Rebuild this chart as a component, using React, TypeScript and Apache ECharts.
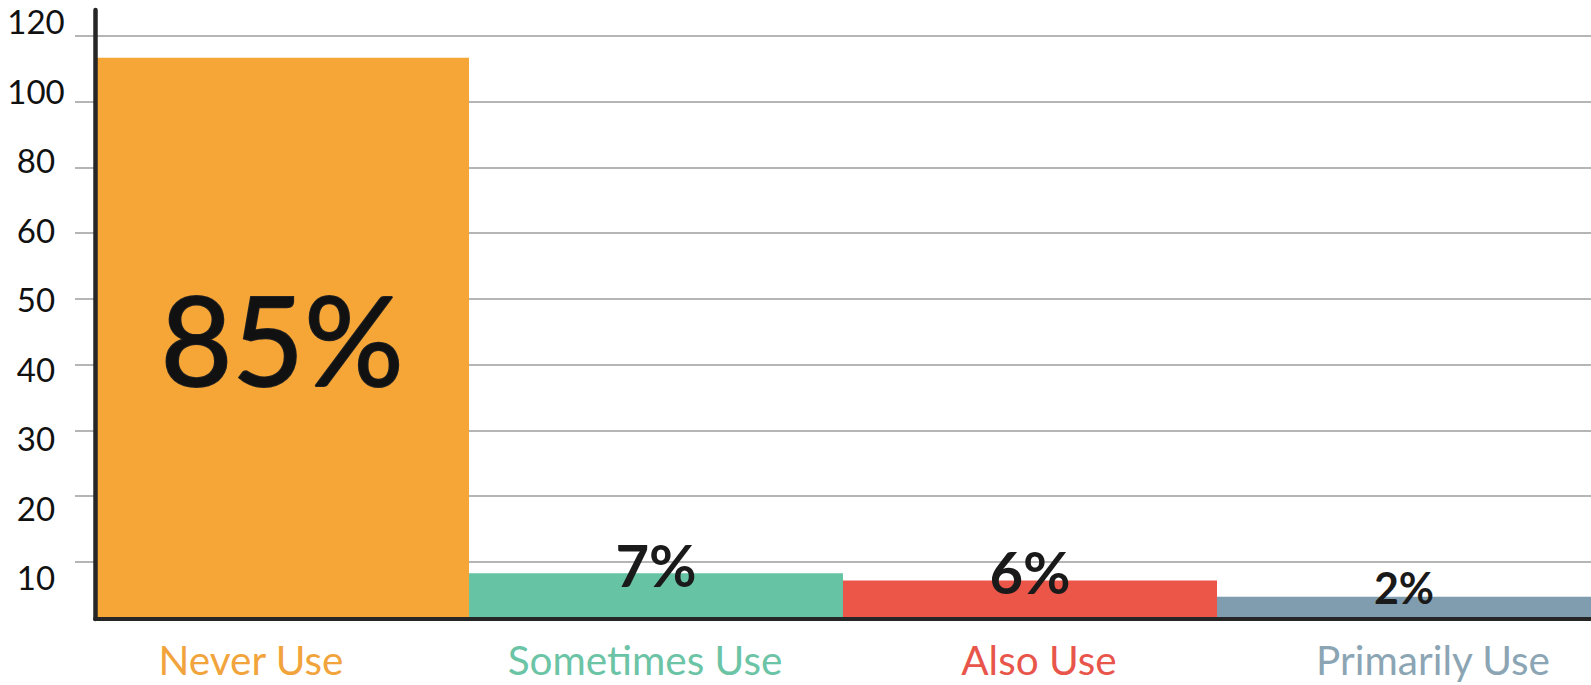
import React, { useEffect, useRef } from 'react';
import * as echarts from 'echarts';

// Categories and values
const categories = ['Never Use', 'Sometimes Use', 'Also Use', 'Primarily Use'];
const percents = [85, 7, 6, 2];
// Bar heights in gridline units (1 = the "10" line, 9 = the "120" line)
const barHeights = [8.67, 0.83, 0.72, 0.47];
// Y tick labels, one per gridline (evenly spaced, non-linear labels)
const yTickLabels = ['10', '20', '30', '40', '50', '60', '80', '100', '120'];
const yTickValues = [1, 2, 3, 4, 5, 6, 7, 8, 9];

const barColors = ['#F6A537', '#66C3A3', '#EB5649', '#7F9DAF'];
const labelColors = ['#F2A43C', '#6BC4A5', '#E8554B', '#8BA5B4'];

const FONT = 'Lato, "Open Sans", sans-serif';

export default function App() {
  const ref = useRef<HTMLDivElement>(null);

  useEffect(() => {
    if (!ref.current) return;
    const chart = echarts.init(ref.current, null, { renderer: 'svg' });

    const data = barHeights.map((h, i) => ({
      value: h,
      itemStyle: { color: barColors[i] },
      label:
        i === 0
          ? {
              show: true,
              position: 'inside',
              fontSize: 124,
              fontWeight: 'normal',
              fontFamily: FONT,
              color: '#111111',
              textBorderColor: '#222222',
              textBorderWidth: 2,
            }
          : {
              show: true,
              position: 'top',
              distance: 9,
              verticalAlign: 'middle',
              fontSize: i === 3 ? 43 : 58,
              fontWeight: 'bold',
              fontFamily: FONT,
              color: '#1a1a1a',
            },
    }));

    const option: any = {
      animation: false,
      backgroundColor: '#ffffff',
      grid: [
        { left: 95, right: 0, top: 10, bottom: 66, outerBoundsMode: 'none', containLabel: false },
        { left: 54, width: 1576, top: 10, bottom: 66, outerBoundsMode: 'none', containLabel: false },
      ],
      xAxis: [
        {
          type: 'category',
          gridIndex: 0,
          data: categories,
          z: 3,
          axisLine: { show: true, onZero: false, lineStyle: { color: '#262626', width: 4 } },
          axisTick: { show: false },
          axisLabel: { show: false },
          splitLine: { show: false },
        },
        {
          type: 'category',
          gridIndex: 1,
          data: categories,
          axisLine: { show: false },
          axisTick: { show: false },
          splitLine: { show: false },
          axisLabel: {
            margin: 20,
            fontFamily: FONT,
            fontSize: 40.5,
            color: (_v: any, i: number) => labelColors[i],
          },
        },
      ],
      yAxis: [
        {
          type: 'value',
          gridIndex: 0,
          min: 0.133,
          max: 9.395,
          axisLine: { show: false },
          axisTick: {
            show: true,
            customValues: yTickValues,
            length: 20,
            lineStyle: { color: '#9d9d9d', width: 1.5 },
          },
          axisLabel: { show: false },
          splitLine: { show: true, lineStyle: { color: '#9d9d9d', width: 1.5 } },
        },
        {
          type: 'value',
          gridIndex: 0,
          position: 'left',
          min: 0.395,
          max: 9.165,
          z: 3,
          axisLine: { show: true, onZero: false, lineStyle: { color: '#262626', width: 4.5 } },
          axisTick: { show: false },
          splitLine: { show: false },
          axisLabel: {
            customValues: yTickValues,
            formatter: (v: number) => yTickLabels[Math.round(v) - 1] ?? '',
            align: 'center',
            margin: 59,
            fontFamily: FONT,
            fontSize: 33,
            color: '#111111',
          },
        },
        { type: 'value', gridIndex: 1, show: false },
      ],
      series: [
        {
          type: 'bar',
          xAxisIndex: 0,
          yAxisIndex: 0,
          barWidth: '100%',
          label: {
            formatter: (p: any) => `${percents[p.dataIndex]}%`,
          },
          data,
        },
      ],
    };

    chart.setOption(option);
    return () => chart.dispose();
  }, []);

  return (
    <div
      ref={ref}
      style={{ position: 'absolute', left: 0, top: 0, width: 1591, height: 685 }}
    />
  );
}
